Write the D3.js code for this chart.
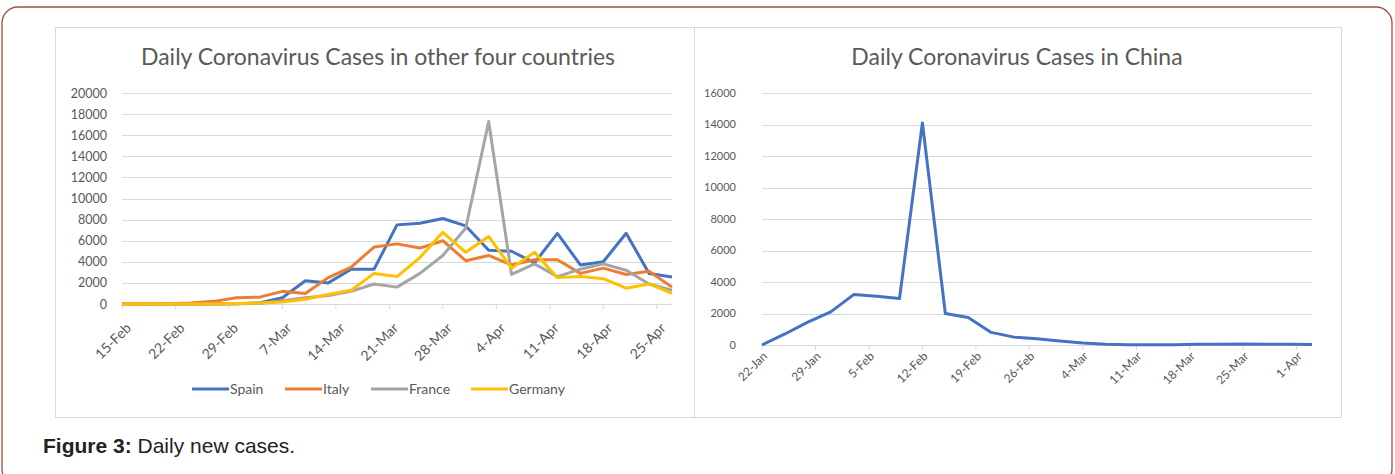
<!DOCTYPE html>
<html>
<head>
<meta charset="utf-8">
<script src="https://d3js.org/d3.v7.min.js"></script>
<style>
  body { margin: 0; background: #fff; }
  text { font-family: Lato, "Open Sans", sans-serif; }
</style>
</head>
<body>
<svg id="fig" width="1395" height="474"></svg>
<script>
  // other four countries, every 3 days
  var dates4 = ["15-Feb","18-Feb","21-Feb","24-Feb","27-Feb","1-Mar","4-Mar","7-Mar","10-Mar","13-Mar","16-Mar","19-Mar","22-Mar","25-Mar","28-Mar","31-Mar","3-Apr","6-Apr","9-Apr","12-Apr","15-Apr","18-Apr","21-Apr","24-Apr","27-Apr"];
  var spain   = [0,0,0,0,0,30,100,600,2200,2000,3300,3300,7500,7650,8100,7400,5100,5000,3900,6700,3700,4000,6700,2900,2550];
  var italy   = [0,0,20,100,250,600,650,1200,1000,2500,3500,5400,5700,5300,6000,4100,4600,3700,4200,4200,2900,3400,2800,3100,1600];
  var france  = [0,0,0,0,20,30,40,300,600,800,1200,1900,1600,2900,4600,7200,17300,2800,3800,2600,3300,3800,3200,1900,1300];
  var germany = [0,0,0,0,10,50,100,200,450,900,1300,2900,2600,4400,6800,4900,6400,3400,4900,2500,2600,2400,1500,1900,1000];
  var ticks4  = ["15-Feb","22-Feb","29-Feb","7-Mar","14-Mar","21-Mar","28-Mar","4-Apr","11-Apr","18-Apr","25-Apr"];

  // china, every 3 days
  var datesCN = ["22-Jan","25-Jan","28-Jan","31-Jan","3-Feb","6-Feb","9-Feb","12-Feb","15-Feb","18-Feb","21-Feb","24-Feb","27-Feb","1-Mar","4-Mar","7-Mar","10-Mar","13-Mar","16-Mar","19-Mar","22-Mar","25-Mar","28-Mar","31-Mar","3-Apr"];
  var china   = [0,700,1450,2100,3200,3100,2950,14100,2000,1750,800,500,400,250,120,50,20,10,20,40,45,65,45,50,30];
  var ticksCN = ["22-Jan","29-Jan","5-Feb","12-Feb","19-Feb","26-Feb","4-Mar","11-Mar","18-Mar","25-Mar","1-Apr"];

  var countries = ["Spain","Italy","France","Germany"];
  var colors = ["#4472c4","#ed7d31","#a5a5a5","#ffc000"];

  var parse = d3.timeParse("%d-%b-%Y");
  function dt(s) { return parse(s + "-2020"); }
  var fmt = d3.timeFormat("%-d-%b");

  var svg = d3.select("#fig");

  // outer rounded border
  svg.append("rect")
    .attr("x", 2).attr("y", 7).attr("width", 1390).attr("height", 478)
    .attr("rx", 16)
    .attr("fill", "none").attr("stroke", "#a0503c").attr("stroke-width", 1.3);

  // chart frames
  svg.append("rect")
    .attr("x", 55.5).attr("y", 27.5).attr("width", 639).attr("height", 390)
    .attr("fill", "#fff").attr("stroke", "#d9d9d9");
  svg.append("rect")
    .attr("x", 694.5).attr("y", 27.5).attr("width", 647).attr("height", 390)
    .attr("fill", "#fff").attr("stroke", "#d9d9d9");

  function drawChart(opt) {
    var x = d3.scaleTime()
      .domain([dt(opt.dates[0]), d3.timeDay.offset(dt(opt.dates[0]), opt.span)])
      .range([opt.left, opt.right]);
    var y = d3.scaleLinear().domain([0, opt.ymax]).range([opt.bottom, opt.top]);

    var g = svg.append("g");

    // gridlines
    g.selectAll(".grid").data(d3.range(0, opt.ymax + 1, 2000)).enter()
      .append("line")
      .attr("x1", opt.left).attr("x2", opt.right)
      .attr("y1", function(d) { return Math.round(y(d)) + 0.5; })
      .attr("y2", function(d) { return Math.round(y(d)) + 0.5; })
      .attr("stroke", "#d9d9d9").attr("stroke-width", 1);

    // y labels
    g.selectAll(".yl").data(d3.range(0, opt.ymax + 1, 2000)).enter()
      .append("text")
      .attr("x", opt.left - opt.yPad)
      .attr("y", function(d) { return y(d) + opt.yFont * 0.36; })
      .attr("text-anchor", "end")
      .attr("font-size", opt.yFont)
      .attr("fill", "#595959")
      .text(function(d) { return d; });

    // x axis ticks + labels
    var tickDates = opt.ticks.map(dt);
    g.selectAll(".xt").data(tickDates).enter()
      .append("line")
      .attr("x1", function(d) { return x(d); }).attr("x2", function(d) { return x(d); })
      .attr("y1", opt.bottom).attr("y2", opt.bottom + 5)
      .attr("stroke", "#d9d9d9");
    g.selectAll(".xl").data(tickDates).enter()
      .append("text")
      .attr("transform", function(d) { return "translate(" + (x(d) + opt.xdx) + "," + (opt.bottom + opt.xdy) + ") rotate(-45)"; })
      .attr("text-anchor", "end")
      .attr("font-size", opt.xFont)
      .attr("fill", "#595959")
      .text(function(d) { return fmt(d); });

    // title
    g.append("text")
      .attr("x", opt.titleX).attr("y", 65)
      .attr("text-anchor", "middle")
      .attr("font-size", 23)
      .attr("fill", "#595959")
      .text(opt.title);

    // lines
    var line = d3.line()
      .x(function(d) { return x(d[0]); })
      .y(function(d) { return y(d[1]); });
    opt.series.forEach(function(s, i) {
      g.append("path")
        .datum(opt.dates.map(function(dd, j) { return [dt(dd), s[j]]; }))
        .attr("d", line)
        .attr("fill", "none")
        .attr("stroke", opt.colors[i])
        .attr("stroke-width", 3)
        .attr("stroke-linejoin", "round");
    });
  }

  drawChart({
    dates: dates4, span: 72.6, ticks: ticks4, ymax: 20000,
    left: 122, right: 672, top: 93, bottom: 304,
    yFont: 12.5, yPad: 15, xFont: 14, xdx: 10, xdy: 25,
    series: [spain, italy, france, germany], colors: colors,
    title: "Daily Coronavirus Cases in other four countries", titleX: 378
  });

  drawChart({
    dates: datesCN, span: 72.7, ticks: ticksCN, ymax: 16000,
    left: 762, right: 1312, top: 93, bottom: 345,
    yFont: 11, yPad: 26, xFont: 12, xdx: 6, xdy: 12,
    series: [china], colors: ["#4472c4"],
    title: "Daily Coronavirus Cases in China", titleX: 1017
  });

  // legend
  var legX = [192, 285, 371, 471];
  countries.forEach(function(c, i) {
    svg.append("line")
      .attr("x1", legX[i]).attr("x2", legX[i] + 37)
      .attr("y1", 389).attr("y2", 389)
      .attr("stroke", colors[i]).attr("stroke-width", 3);
    svg.append("text")
      .attr("x", legX[i] + 38).attr("y", 394)
      .attr("font-size", 14)
      .attr("fill", "#595959")
      .text(c);
  });

  // caption
  var cap = svg.append("text")
    .attr("x", 43).attr("y", 453)
    .style("font-family", "'Liberation Sans', Arial, sans-serif")
    .attr("font-size", 21)
    .attr("fill", "#222");
  cap.append("tspan").attr("font-weight", "bold").text("Figure 3:");
  cap.append("tspan").text(" Daily new cases.");
</script>
</body>
</html>
